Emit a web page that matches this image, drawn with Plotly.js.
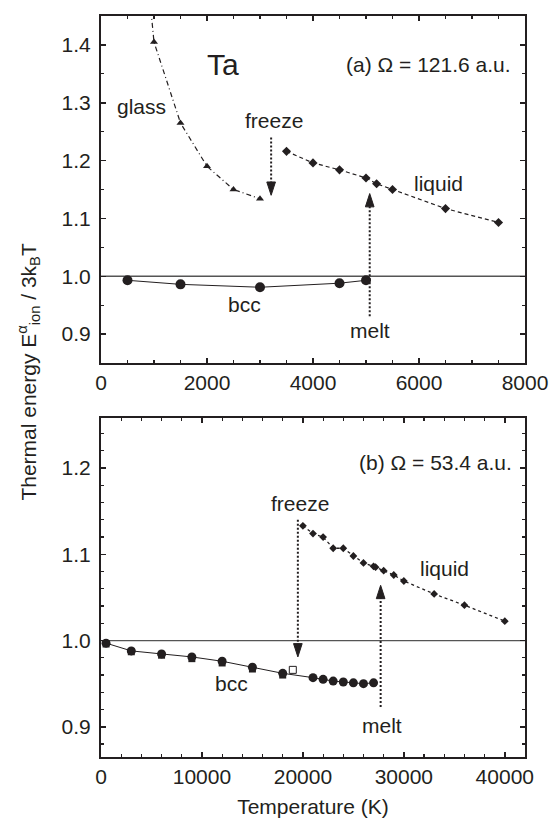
<!DOCTYPE html>
<html><head><meta charset="utf-8">
<script src="https://cdn.plot.ly/plotly-3.0.1.min.js"></script>
<style>body{margin:0;background:#fff}#c{width:549px;height:826px}</style>
</head><body><div id="c"></div>
<script>
// ---- data (a) Omega = 121.6 a.u. ----
const aBccT = [500, 1500, 3000, 4500, 5000];
const aBccE = [0.993, 0.986, 0.981, 0.988, 0.993];
const aGlassT = [900, 1000, 1500, 2000, 2500, 3000];
const aGlassE = [1.50, 1.405, 1.265, 1.190, 1.150, 1.134];
const aLiqT = [3500, 4000, 4500, 5000, 5200, 5500, 6500, 7500];
const aLiqE = [1.216, 1.196, 1.184, 1.170, 1.160, 1.150, 1.117, 1.093];
// ---- data (b) Omega = 53.4 a.u. ----
const bBccT = [500, 3000, 6000, 9000, 12000, 15000, 18000, 21000, 22000, 23000, 24000, 25000, 26000, 27000];
const bBccE = [0.997, 0.988, 0.9845, 0.981, 0.976, 0.969, 0.962, 0.957, 0.955, 0.953, 0.952, 0.951, 0.950, 0.951];
const bSqT = [500, 3000, 6000, 9000, 12000, 15000, 18000];
const bSqE = [0.996, 0.987, 0.983, 0.979, 0.974, 0.967, 0.960];
const bOpenT = [19000];
const bOpenE = [0.966];
const bLiqT = [20000, 21000, 22000, 23000, 24000, 25000, 26000, 27000, 27200, 28000, 29000, 30000, 33000, 36000, 40000];
const bLiqE = [1.133, 1.124, 1.120, 1.107, 1.107, 1.098, 1.090, 1.086, 1.085, 1.081, 1.076, 1.069, 1.054, 1.041, 1.0225];
// arrows [T, from, to(tip)]
const aFreeze = [3210, 1.240, 1.140];
const aMelt = [5070, 0.931, 1.143];
const bFreeze = [19500, 1.140, 0.981];
const bMelt = [27700, 0.923, 1.064];

const K = '#231f20';
const FONT = 'Liberation Sans, Arial, sans-serif';
const FS = 21;

function arrowTrace(a, xa, ya) {
  return {x: [a[0], a[0]], y: [a[1], a[2]], xaxis: xa, yaxis: ya, mode: 'lines+markers',
    line: {color: K, width: 2, dash: '2px,2px'},
    marker: {symbol: 'arrow', size: [0, 14], angleref: 'previous', color: K, opacity: 1,
             line: {width: 1, color: K}}};
}

const traces = [
  {x: aBccT, y: aBccE, xaxis: 'x', yaxis: 'y', mode: 'lines+markers',
   line: {color: K, width: 1}, marker: {symbol: 'circle', size: 10, color: K}},
  {x: aGlassT, y: aGlassE, xaxis: 'x', yaxis: 'y', mode: 'lines+markers',
   line: {color: K, width: 1.2, dash: '5px,3px,1px,3px'}, marker: {symbol: 'triangle-up', size: 7, color: K}},
  {x: aLiqT, y: aLiqE, xaxis: 'x', yaxis: 'y', mode: 'lines+markers',
   line: {color: K, width: 1.2, dash: '4px,3px'}, marker: {symbol: 'diamond', size: 7, color: K}},
  {x: bBccT, y: bBccE, xaxis: 'x2', yaxis: 'y2', mode: 'lines+markers',
   line: {color: K, width: 1}, marker: {symbol: 'circle', size: 9, color: K}},
  {x: bSqT, y: bSqE, xaxis: 'x2', yaxis: 'y2', mode: 'markers',
   marker: {symbol: 'square', size: 7, color: K}},
  {x: bOpenT, y: bOpenE, xaxis: 'x2', yaxis: 'y2', mode: 'markers',
   marker: {symbol: 'square-open', size: 7, color: K, line: {width: 1, color: K}}},
  {x: bLiqT, y: bLiqE, xaxis: 'x2', yaxis: 'y2', mode: 'lines+markers',
   line: {color: K, width: 1.3, dash: 'dot'}, marker: {symbol: 'diamond', size: 6, color: K}},
  arrowTrace(aFreeze, 'x', 'y'),
  arrowTrace(aMelt, 'x', 'y'),
  arrowTrace(bFreeze, 'x2', 'y2'),
  arrowTrace(bMelt, 'x2', 'y2')
];

function axisBase(extra) {
  return Object.assign({
    showline: true, linecolor: K, linewidth: 2, mirror: 'allticks',
    ticks: 'inside', ticklen: 5, tickwidth: 1.5, tickcolor: K,
    showgrid: false, zeroline: false,
    tickfont: {family: FONT, size: FS, color: K}
  }, extra);
}

const layout = {
  width: 549, height: 826,
  margin: {l: 101, r: 24, t: 16, b: 69},
  paper_bgcolor: '#fff', plot_bgcolor: '#fff',
  showlegend: false,
  font: {family: FONT, color: K},
  xaxis: axisBase({domain: [0, 1], anchor: 'y', range: [0, 8000], dtick: 2000, tick0: 0, tickformat: 'd',
    minor: {dtick: 500, ticks: 'inside', ticklen: 3, tickwidth: 1.2, tickcolor: K}}),
  yaxis: axisBase({domain: [0.5317, 1], anchor: 'x', range: [0.85, 1.45], dtick: 0.1, tick0: 0.9,
    tickformat: '.1f', ticklabelstandoff: 4,
    minor: {dtick: 0.05, ticks: 'inside', ticklen: 3, tickwidth: 1.2, tickcolor: K}}),
  xaxis2: axisBase({domain: [0, 1], anchor: 'y2', range: [0, 42000], dtick: 10000, tick0: 0, tickformat: 'd',
    minor: {dtick: 2000, ticks: 'inside', ticklen: 3, tickwidth: 1.2, tickcolor: K},
    title: {text: 'Temperature (K)', font: {family: FONT, size: FS, color: K}, standoff: 12}}),
  yaxis2: axisBase({domain: [0, 0.4575], anchor: 'x2', range: [0.865, 1.258], dtick: 0.1, tick0: 0.9,
    tickformat: '.1f', ticklabelstandoff: 4,
    minor: {dtick: 0.02, ticks: 'inside', ticklen: 3, tickwidth: 1.2, tickcolor: K}}),
  shapes: [
    {type: 'line', xref: 'x domain', yref: 'y', x0: 0, x1: 1, y0: 1, y1: 1, line: {color: '#555', width: 1.3}, layer: 'below'},
    {type: 'line', xref: 'x2 domain', yref: 'y2', x0: 0, x1: 1, y0: 1, y1: 1, line: {color: '#555', width: 1.3}, layer: 'below'}
  ],
  annotations: [
    // text labels panel (a)
    {xref: 'x', yref: 'y', x: 2303, y: 1.366, text: 'Ta', showarrow: false, font: {family: FONT, size: 30, color: K}},
    {xref: 'x', yref: 'y', x: 7780, y: 1.366, xanchor: 'right', text: '(a) Ω = 121.6 a.u.', showarrow: false, font: {family: FONT, size: FS, color: K}},
    {xref: 'x', yref: 'y', x: 772, y: 1.293, text: 'glass', showarrow: false, font: {family: FONT, size: FS, color: K}},
    {xref: 'x', yref: 'y', x: 3272, y: 1.269, text: 'freeze', showarrow: false, font: {family: FONT, size: FS, color: K}},
    {xref: 'x', yref: 'y', x: 6366, y: 1.161, text: 'liquid', showarrow: false, font: {family: FONT, size: FS, color: K}},
    {xref: 'x', yref: 'y', x: 2709, y: 0.951, text: 'bcc', showarrow: false, font: {family: FONT, size: FS, color: K}},
    {xref: 'x', yref: 'y', x: 5070, y: 0.906, text: 'melt', showarrow: false, font: {family: FONT, size: FS, color: K}},
    // text labels panel (b)
    {xref: 'x2', yref: 'y2', x: 40900, y: 1.206, xanchor: 'right', text: '(b) Ω = 53.4 a.u.', showarrow: false, font: {family: FONT, size: FS, color: K}},
    {xref: 'x2', yref: 'y2', x: 19690, y: 1.159, text: 'freeze', showarrow: false, font: {family: FONT, size: FS, color: K}},
    {xref: 'x2', yref: 'y2', x: 34000, y: 1.083, text: 'liquid', showarrow: false, font: {family: FONT, size: FS, color: K}},
    {xref: 'x2', yref: 'y2', x: 12900, y: 0.950, text: 'bcc', showarrow: false, font: {family: FONT, size: FS, color: K}},
    {xref: 'x2', yref: 'y2', x: 27800, y: 0.901, text: 'melt', showarrow: false, font: {family: FONT, size: FS, color: K}},
    // shared y title
    {xref: 'paper', yref: 'paper', x: -0.17, y: 0.52, xanchor: 'center', yanchor: 'middle', textangle: -90,
     text: 'Thermal energy E<sup>α</sup><sub>ion</sub> / 3k<sub>B</sub>T', showarrow: false,
     font: {family: FONT, size: FS, color: K}}
  ]
};

Plotly.newPlot('c', traces, layout, {displayModeBar: false, staticPlot: true});
</script>
</body></html>
